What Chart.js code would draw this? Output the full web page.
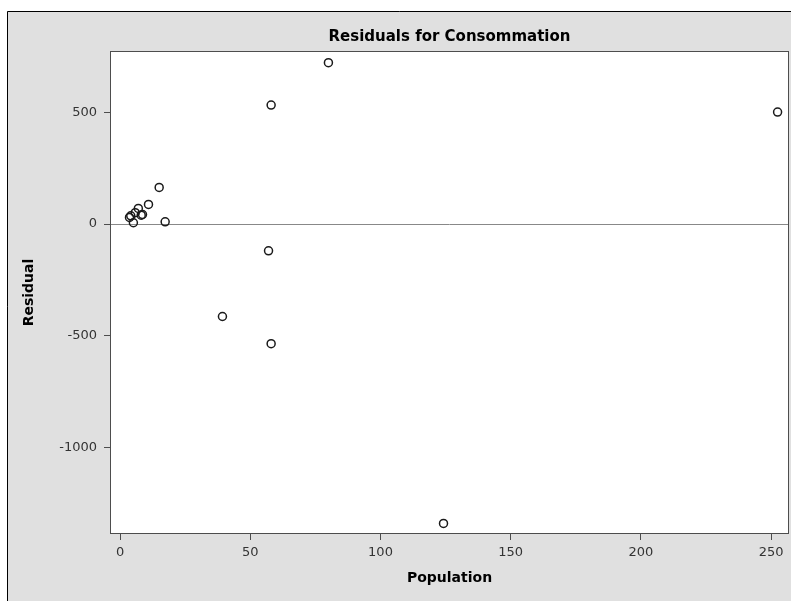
<!DOCTYPE html>
<html>
<head>
<meta charset="utf-8">
<script src="https://cdn.jsdelivr.net/npm/chart.js@4/dist/chart.umd.min.js"></script>
<style>
  html, body { margin: 0; padding: 0; background: #fff; }
  canvas { display: block; }
</style>
</head>
<body>
<canvas id="resid" width="791" height="601"></canvas>
<script>
// Residuals vs population
const population = [80, 58, 252.5, 15, 10.9, 7.0, 8.6, 8.1, 5.8, 4.1, 3.6, 5.1, 17.3, 57, 39.3, 58, 124.2];
const residuals  = [723, 533, 502, 164, 88, 70, 43, 40, 51, 37, 30, 6, 10, -120, -414, -536, -1341];

const xTicks = [0, 50, 100, 150, 200, 250];
const yTicks = [-1000, -500, 0, 500];

const FONT = "'DejaVu Sans', Arial, sans-serif";

const points = population.map((p, i) => ({ x: p, y: residuals[i] }));

// gray frame, white plot panel, panel border
const frame = {
  id: "frame",
  beforeDraw(chart) {
    const { ctx, chartArea: a, width, height } = chart;
    ctx.save();
    ctx.fillStyle = "#fff";
    ctx.fillRect(0, 0, width, height);
    ctx.fillStyle = "#e0e0e0";
    ctx.fillRect(7, 11, width - 7, height - 11);
    ctx.strokeStyle = "#000";
    ctx.lineWidth = 1;
    ctx.beginPath();
    ctx.moveTo(7.5, height);
    ctx.lineTo(7.5, 11.5);
    ctx.lineTo(width, 11.5);
    ctx.stroke();
    ctx.fillStyle = "#fff";
    ctx.fillRect(a.left, a.top, a.width, a.height);
    ctx.restore();
  },
  afterDraw(chart) {
    const { ctx, chartArea: a } = chart;
    ctx.save();
    ctx.strokeStyle = "#4d4d4d";
    ctx.lineWidth = 1;
    ctx.strokeRect(a.left - 0.5, a.top - 0.5, a.width + 1, a.height + 1);
    ctx.restore();
  },
};

new Chart(document.getElementById("resid"), {
  type: "scatter",
  data: {
    datasets: [{
      data: points,
      pointStyle: "circle",
      pointRadius: 4,
      pointHoverRadius: 4,
      borderWidth: 1.5,
      borderColor: "#1a1a1a",
      backgroundColor: "rgba(0,0,0,0)",
    }],
  },
  options: {
    responsive: false,
    animation: false,
    layout: { autoPadding: false, padding: { left: 0, top: 0, right: 3, bottom: 0 } },
    plugins: {
      legend: { display: false },
      tooltip: { enabled: false },
      title: {
        display: true,
        fullSize: false,
        text: "Residuals for Consommation",
        color: "#000",
        font: { family: FONT, size: 15, weight: "bold" },
        padding: { top: 28, bottom: 6 },
      },
    },
    scales: {
      x: {
        type: "linear",
        min: -3.5,
        max: 256.5,
        afterFit: (s) => { s.height = 68; s.paddingLeft = 0; s.paddingRight = 0; },
        afterBuildTicks: (s) => { s.ticks = xTicks.map((v) => ({ value: v })); },
        ticks: {
          color: "#333",
          padding: 5,
          font: { family: FONT, size: 13 },
          callback: (v) => String(v),
        },
        grid: { drawOnChartArea: false, tickLength: 7, tickColor: "#4d4d4d" },
        border: { display: false },
        title: {
          display: true,
          text: "Population",
          color: "#000",
          font: { family: FONT, size: 14, weight: "bold" },
          padding: { top: 0, bottom: 14 },
        },
      },
      y: {
        type: "linear",
        min: -1384,
        max: 771,
        afterFit: (s) => { s.width = 111; s.paddingTop = 0; s.paddingBottom = 0; },
        afterBuildTicks: (s) => { s.ticks = yTicks.map((v) => ({ value: v })); },
        ticks: {
          color: "#333",
          padding: 7,
          font: { family: FONT, size: 13 },
          callback: (v) => String(v),
        },
        grid: {
          tickLength: 7,
          tickColor: "#4d4d4d",
          color: (c) => (c.tick && c.tick.value === 0 ? "#888" : "rgba(0,0,0,0)"),
        },
        border: { display: false },
        title: {
          display: true,
          text: "Residual",
          color: "#000",
          font: { family: FONT, size: 14, weight: "bold" },
          padding: { top: 21, bottom: 0 },
        },
      },
    },
  },
  plugins: [frame],
});
</script>
</body>
</html>
